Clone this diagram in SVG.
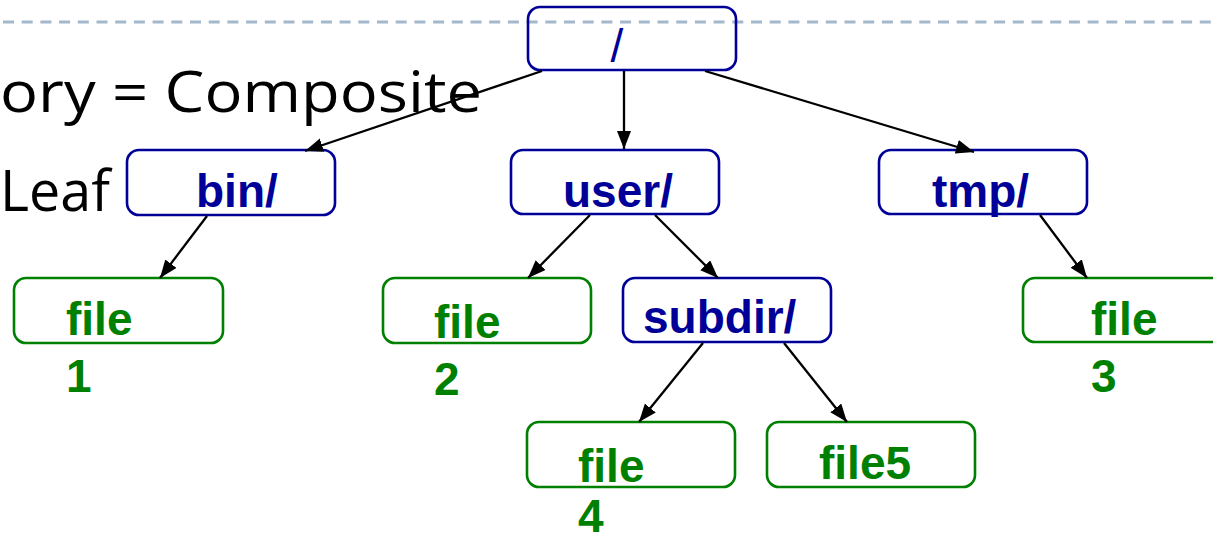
<svg xmlns="http://www.w3.org/2000/svg" width="1213" height="539" viewBox="0 0 1213 539">
<defs>
<style>
.bg{fill:#ffffff}
.dash{stroke:#a3b8cb;stroke-width:3;stroke-dasharray:11 7.7;fill:none}
.slide{font-family:"Open Sans","Liberation Sans",sans-serif;font-size:57px;fill:#000000}
.dir rect{fill:none;stroke:#000099;stroke-width:2.6}
.dir text{font-family:"Liberation Sans",Arial,sans-serif;font-weight:bold;font-size:46px;fill:#000099}
.leaf rect{fill:none;stroke:#008000;stroke-width:2.6}
.leaf text{font-family:"Liberation Sans",Arial,sans-serif;font-weight:bold;font-size:46px;fill:#008000}
.edge{stroke:#000000;stroke-width:2.3;fill:none;marker-end:url(#arr)}
</style>
<marker id="arr" markerUnits="userSpaceOnUse" markerWidth="19" markerHeight="15" refX="18" refY="7" orient="auto">
<path d="M0,0 L18,7 L0,14 z" fill="#000000"/>
</marker>
</defs>
<rect class="bg" x="0" y="0" width="1213" height="539"/>
<line class="dash" x1="3" y1="22" x2="1213" y2="22"/>
<text class="slide" x="0" y="112" textLength="482" lengthAdjust="spacingAndGlyphs">ory = Composite</text>
<text class="slide" x="0" y="211" textLength="110" lengthAdjust="spacingAndGlyphs">Leaf</text>

<g id="root" class="dir">
<rect x="528" y="7" width="208" height="63" rx="12"/>
<text x="617" y="62" text-anchor="middle" style="font-weight:normal">/</text>
</g>
<g id="bin" class="dir">
<rect x="127" y="150" width="208" height="65" rx="12"/>
<text x="196" y="207">bin/</text>
</g>
<g id="user" class="dir">
<rect x="511" y="150" width="208" height="64" rx="12"/>
<text x="563" y="207">user/</text>
</g>
<g id="tmp" class="dir">
<rect x="879" y="150" width="208" height="64" rx="12"/>
<text x="932" y="207">tmp/</text>
</g>
<g id="subdir" class="dir">
<rect x="623" y="278" width="208" height="64" rx="12"/>
<text x="643" y="333">subdir/</text>
</g>
<g id="file1" class="leaf">
<rect x="14" y="278" width="209" height="65" rx="12"/>
<text x="66" y="335">file</text>
<text x="66" y="392">1</text>
</g>
<g id="file2" class="leaf">
<rect x="383" y="278" width="208" height="65" rx="12"/>
<text x="434" y="338">file</text>
<text x="434" y="395">2</text>
</g>
<g id="file3" class="leaf">
<rect x="1023" y="278" width="208" height="64" rx="12"/>
<text x="1091" y="335">file</text>
<text x="1091" y="392">3</text>
</g>
<g id="file4" class="leaf">
<rect x="527" y="422" width="208" height="65" rx="12"/>
<text x="578" y="482">file</text>
<text x="578" y="532">4</text>
</g>
<g id="file5" class="leaf">
<rect x="767" y="422" width="208" height="65" rx="12"/>
<text x="819" y="479">file5</text>
</g>

<g id="connectors">
<line class="edge" x1="542" y1="71" x2="305" y2="151"/>
<line class="edge" x1="624" y1="71" x2="624" y2="149"/>
<line class="edge" x1="705" y1="71" x2="974" y2="152"/>
<line class="edge" x1="207" y1="216" x2="160" y2="278"/>
<line class="edge" x1="590" y1="215" x2="528" y2="278"/>
<line class="edge" x1="655" y1="215" x2="718" y2="278"/>
<line class="edge" x1="1040" y1="215" x2="1087" y2="278"/>
<line class="edge" x1="703" y1="343" x2="639" y2="422"/>
<line class="edge" x1="784" y1="343" x2="847" y2="422"/>
</g>
</svg>
